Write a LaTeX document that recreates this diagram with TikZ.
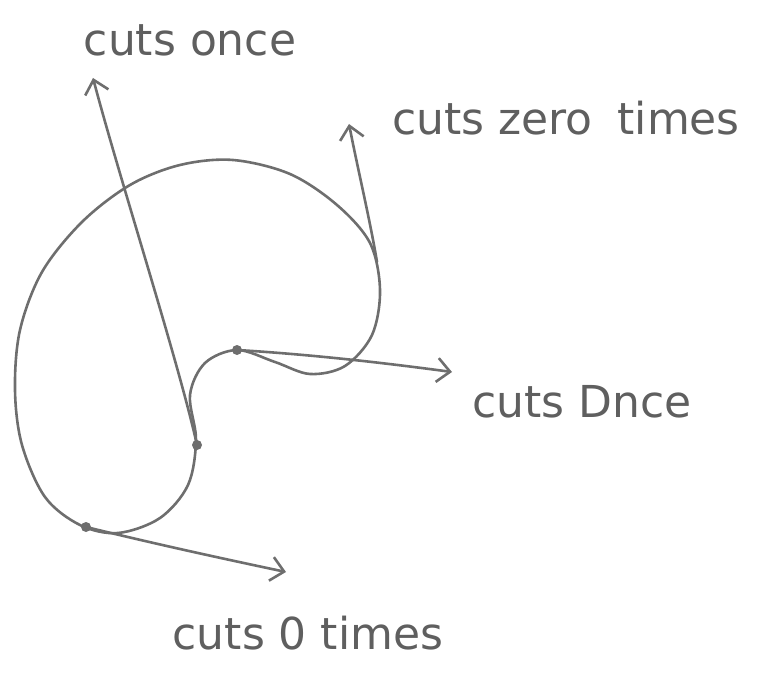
\documentclass[tikz,border=0pt]{standalone}
\usepackage{fontspec}
\setmainfont{DejaVu Sans}
\usetikzlibrary{arrows.meta}
\definecolor{pencil}{RGB}{110,110,110}
\definecolor{ink}{RGB}{95,95,95}
\tikzset{
  curveline/.style={draw=pencil, line width=2.6pt, line cap=round, line join=round},
  arrowline/.style={curveline, -{Straight Barb[length=13pt,width=24pt,line width=2.6pt]}},
  dotmark/.style={circle, fill=pencil, inner sep=0pt, minimum size=10pt},
  lbl/.style={text=ink, font=\fontsize{44}{50}\selectfont, inner sep=0pt}
}
\begin{document}
\begin{tikzpicture}[x=1pt,y=-1pt]
\useasboundingbox (0,0) rectangle (760,676);
% closed curve
\draw[curveline] plot[smooth cycle, tension=0.55] coordinates {
  (233,160) (290,174) (337,205) (370,243) (380,290) (372,335) (345,366)
  (310,374) (275,362) (237,350) (205,363) (190,395) (196,440) (188,485)
  (160,518) (118,533) (80,525) (45,497) (22,445) (15,390) (20,330)
  (42,272) (82,222) (130,185) (180,165)};
% points on the curve
\node[dotmark] (p1) at (197,445) {};
\node[dotmark] (p2) at (237,350) {};
\node[dotmark] (p3) at (86,527) {};
\coordinate (p4) at (377,262);
% arrow tips
\coordinate (t1) at (93,78);
\coordinate (t2) at (349,124);
\coordinate (t3) at (452,372);
\coordinate (t4) at (286,572);
% arrows
\draw[arrowline] (p1.center) .. controls (178,360) and (120,180) .. (t1);
\draw[arrowline] (p4) .. controls (370,220) and (358,170) .. (t2);
\draw[arrowline] (p2.center) .. controls (320,355) and (400,365) .. (t3);
\draw[arrowline] (p3.center) .. controls (160,545) and (220,558) .. (t4);
% labels
\node[lbl] (l1) at (190,40) {cuts once};
\node[lbl] (l2) at (566,118) {cuts zero\hspace{0.25em} times};
\node[lbl] (l3) at (582,402) {cuts Dnce};
\node[lbl] (l4) at (308,633) {cuts 0 times};
\end{tikzpicture}
\end{document}
